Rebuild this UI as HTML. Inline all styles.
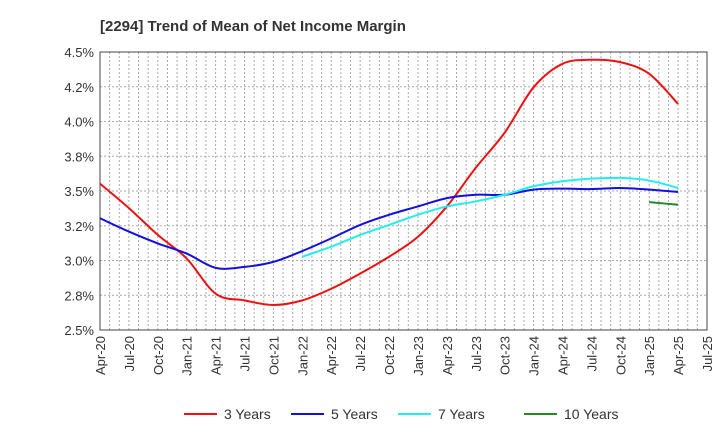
<!DOCTYPE html>
<html><head><meta charset="utf-8"><style>
body{margin:0;background:#fff;font-family:"Liberation Sans",Arial,sans-serif;}
svg text{font-family:"Liberation Sans",Arial,sans-serif;}
</style></head><body>
<svg id="c" width="720" height="440" xmlns="http://www.w3.org/2000/svg">
<text x="100" y="31" font-size="15" font-weight="bold" fill="#333">[2294]  Trend of Mean of Net Income Margin</text>
<g id="grid"></g><g id="axes"></g><g id="series"></g><g id="legend"></g>
</svg>
<script>
const xLabels=["Apr-20","Jul-20","Oct-20","Jan-21","Apr-21","Jul-21","Oct-21","Jan-22","Apr-22","Jul-22","Oct-22","Jan-23","Apr-23","Jul-23","Oct-23","Jan-24","Apr-24","Jul-24","Oct-24","Jan-25","Apr-25","Jul-25"];
const yTicks=[2.5,2.75,3.0,3.25,3.5,3.75,4.0,4.25,4.5];
const yTickLabels=["2.5%","2.8%","3.0%","3.2%","3.5%","3.8%","4.0%","4.2%","4.5%"];
const s3=[3.553,3.377,3.184,3.014,2.761,2.713,2.68,2.713,2.797,2.906,3.027,3.171,3.389,3.667,3.92,4.246,4.415,4.444,4.427,4.343,4.126];
const s5=[3.304,3.208,3.123,3.05,2.947,2.954,2.99,3.068,3.159,3.256,3.329,3.389,3.449,3.473,3.473,3.51,3.517,3.514,3.522,3.51,3.493];
const s7=[3.027,3.099,3.184,3.256,3.329,3.389,3.425,3.473,3.534,3.57,3.589,3.594,3.575,3.522];
const s10=[3.42,3.401];
const seriesNames=["3 Years","5 Years","7 Years","10 Years"];
const seriesColors=["#ee1111","#1111dd","#22eeee","#228822"];
const seriesStart=[0,0,7,19];
const NS="http://www.w3.org/2000/svg";
const L=100,R=707,T=52,B=330;
const X=i=>L+(R-L)*i/(xLabels.length-1);
const Y=v=>B-(v-2.5)/2*(B-T);
function mk(tag,attrs,parent){const e=document.createElementNS(NS,tag);for(const k in attrs)e.setAttribute(k,attrs[k]);parent.appendChild(e);return e;}
const grid=document.getElementById('grid'),axes=document.getElementById('axes'),ser=document.getElementById('series'),leg=document.getElementById('legend');
for(let m=1;m<(xLabels.length-1)*3;m++){const x=L+(R-L)*m/((xLabels.length-1)*3);
const g=mk('line',{x1:x,x2:x,y1:T,y2:B,stroke:'#aaa','stroke-dasharray':'2,2','stroke-width':1},grid);

}
yTicks.forEach((v,i)=>{if(i>0&&i<yTicks.length-1){const g=mk('line',{x1:L,x2:R,y1:Y(v),y2:Y(v),stroke:'#aaa','stroke-dasharray':'2,2'},grid);

}
const t=mk('text',{x:L-6,y:Y(v)+5,'text-anchor':'end','font-size':13,fill:'#333'},axes);t.textContent=yTickLabels[i];

});
const fr=mk('rect',{x:L,y:T,width:R-L,height:B-T,fill:'none',stroke:'#444','stroke-width':1},axes);


xLabels.forEach((s,i)=>{const t=mk('text',{transform:`translate(${X(i)+5},${B+6}) rotate(-90)`,'text-anchor':'end','font-size':13,fill:'#333'},axes);t.textContent=s;

});
function path(pts){let d=`M${pts[0][0]},${pts[0][1]}`;for(let i=0;i<pts.length-1;i++){const p0=pts[i-1]||pts[i],p1=pts[i],p2=pts[i+1],p3=pts[i+2]||p2;
d+=` C${p1[0]+(p2[0]-p0[0])/6},${p1[1]+(p2[1]-p0[1])/6} ${p2[0]-(p3[0]-p1[0])/6},${p2[1]-(p3[1]-p1[1])/6} ${p2[0]},${p2[1]}`;}return d;}
[s3,s5,s7,s10].forEach((arr,k)=>{const pts=arr.map((v,i)=>[X(i+seriesStart[k]),Y(v)]);
const p=mk('path',{d:path(pts),fill:'none',stroke:seriesColors[k],'stroke-width':2},ser);


const lx=[184,291,398,524][k];
const g=mk('g',{},leg);


mk('line',{x1:lx,x2:lx+33,y1:414,y2:414,stroke:seriesColors[k],'stroke-width':2},g);
const t=mk('text',{x:lx+40,y:419,'font-size':14,fill:'#333'},g);t.textContent=seriesNames[k];});
</script>
</body></html>
